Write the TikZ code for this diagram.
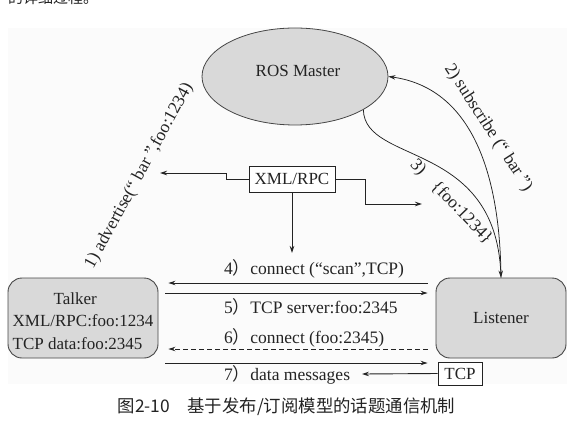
\documentclass[tikz,border=0pt]{standalone}
\usepackage{fontspec}
\setmainfont{Liberation Serif}
\newfontfamily\cjk{Noto Sans CJK SC}
\usetikzlibrary{arrows.meta,shapes.geometric}
\definecolor{boxfill}{RGB}{217,217,217}
\definecolor{edge}{RGB}{70,70,70}
\definecolor{ink}{RGB}{35,35,35}
\definecolor{bgpale}{RGB}{251,251,251}
\newcommand\lblfont{\fontsize{17.5}{20}\selectfont}
\newcommand\boxfont{\fontsize{17}{22.5}\selectfont}
\newcommand\fwp{{\cjk ）}}
\begin{document}
\begin{tikzpicture}[x=1pt,y=-1pt,
  conn/.style={draw=ink,line width=0.9pt,-{Stealth[length=7pt,width=4.5pt]}},
  curveconn/.style={draw=ink,line width=0.75pt,-{Stealth[length=7pt,width=4.5pt]}},
  plainbox/.style={draw=ink,line width=0.8pt,fill=white,inner sep=0pt,font=\boxfont,text=ink},
  gbox/.style={draw=edge,line width=0.9pt,fill=boxfill,rounded corners=14pt,inner sep=0pt},
  boxtext/.style={font=\boxfont,text=ink,inner sep=0pt},
  lbl/.style={font=\lblfont,text=ink,inner sep=0pt},
]
\useasboundingbox (0,0) rectangle (588,422);
\fill[bgpale] (8,28) rectangle (567,384);

% top fragment of the surrounding page text
\node[font=\cjk\fontsize{15}{18}\selectfont,text=ink,anchor=base west,inner sep=0pt] (topfrag) at (8,4) {的详细过程。};

% main nodes
\node[ellipse,draw=edge,fill=boxfill,line width=0.8pt,minimum width=186pt,minimum height=97pt,inner sep=0pt] (master) at (295,76.5) {};
\node[boxtext] (mastertxt) at (298,70.5) {ROS Master};

\node[gbox,minimum width=150pt,minimum height=80pt] (talker) at (83,318) {};
\node[boxtext,align=left] (talkertxt) at (83,321) {\hspace*{41pt}Talker\\XML/RPC:foo:1234\\TCP data:foo:2345};

\node[gbox,minimum width=130pt,minimum height=80pt,font=\boxfont,text=ink] (listener) at (501,318) {Listener};

\node[plainbox,minimum width=86pt,minimum height=26pt] (xml) at (292,179) {XML/RPC};
\node[plainbox,minimum width=44pt,minimum height=23pt] (tcp) at (460,373.5) {TCP};

% free ends
\coordinate (advtip) at (160,173);
\coordinate (regtip) at (422,204);
\coordinate (contip) at (292,253);
\coordinate (msgtip) at (362,374);

% XML/RPC connectors
\draw[conn] (xml.west) -- ++(-22,0) |- (advtip);
\draw[conn] (xml.east) -- ++(30,0) |- (regtip);
\draw[conn] (xml.south) -- (contip);

% curves to/from master
\draw[curveconn] (listener.north) .. controls (500,170) and (470,88) .. (master.east);
\draw[curveconn] (master.-26) .. controls (365,165) and (495,140) .. (listener.north);

% horizontal exchanges
\draw[conn] ([xshift=-8pt,yshift=35pt]listener.west) -- ([xshift=10pt,yshift=35pt]talker.east);
\draw[conn] ([xshift=7pt,yshift=25pt]talker.east) -- ([xshift=-8pt,yshift=25pt]listener.west);
\draw[conn,dash pattern=on 5pt off 3pt] ([xshift=-8pt,yshift=-31pt]listener.west) -- ([xshift=10pt,yshift=-31pt]talker.east);
\draw[conn] ([xshift=7pt,yshift=-45pt]talker.east) -- ([xshift=-8pt,yshift=-45pt]listener.west);
\draw[conn] (tcp.west) -- (msgtip);

% labels
\node[lbl,anchor=base west] (l4) at (224,274) {4\fwp connect (“scan”,TCP)};
\node[lbl,anchor=base west] (l5) at (224,313) {5\fwp TCP server:foo:2345};
\node[lbl,anchor=base west] (l6) at (224,343) {6\fwp connect (foo:2345)};
\node[lbl,anchor=base west] (l7) at (224,380) {7\fwp data messages};

\node[lbl,anchor=base,rotate=61.4] (ladv) at (143,178) {1) advertise(“ bar ”,foo:1234)};
\node[lbl,anchor=base,rotate=-57] (lsub) at (484.5,130) {2) subscribe (“ bar ”)};
\node[lbl,anchor=base,rotate=-46] (lreg) at (448,205) {3)\hspace{0.9em}\{foo:1234\}};

% caption
\node[font=\cjk\fontsize{17.4}{20}\selectfont,text=ink,inner sep=0pt] (caption) at (286.5,407) {图2-10　基于发布/订阅模型的话题通信机制};
\end{tikzpicture}
\end{document}
